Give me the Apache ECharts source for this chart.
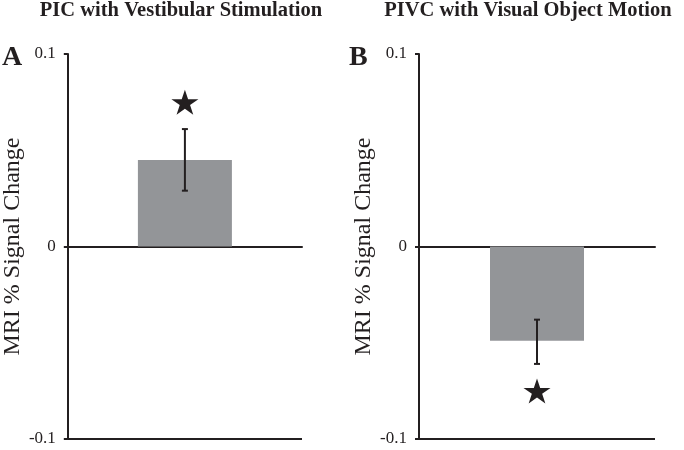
<!DOCTYPE html>
<html><head><meta charset="utf-8">
<script src="https://cdn.jsdelivr.net/npm/echarts@6/dist/echarts.min.js"></script>
<style>html,body{margin:0;padding:0;background:#fff}#c{width:684px;height:450px}</style>
</head><body><div id="c"></div>
<script>
const panelTitles = ['PIC with Vestibular Stimulation', 'PIVC with Visual Object Motion'];
const panelLetters = ['A', 'B'];
const categories = ['Condition'];
const meanA = [0.045];
const meanB = [-0.049];
const errLowA = [0.029];
const errHighA = [0.061];
const errLowB = [-0.061];
const errHighB = [-0.038];
const starA = [0.075];
const starB = [-0.075];
const yTicks = [-0.1, 0, 0.1];
const yAxisName = 'MRI % Signal Change';

const INK = '#231f20';
const SERIF = '"Liberation Serif", "Times New Roman", serif';
const STAR = 'path://M100,0 L122.45,69.1 L195.1,69.1 L136.3,111.8 L158.8,180.9 L100,138.2 L41.2,180.9 L63.7,111.8 L4.9,69.1 L77.55,69.1 Z';

function renderErr(params, api) {
  const x = api.value(0);
  const lo = api.coord([x, api.value(1)]);
  const hi = api.coord([x, api.value(2)]);
  const cap = 3;
  const style = { stroke: INK, lineWidth: 2 };
  return { type: 'group', children: [
    { type: 'line', shape: { x1: lo[0], y1: lo[1], x2: hi[0], y2: hi[1] }, style },
    { type: 'line', shape: { x1: lo[0] - cap, y1: lo[1], x2: lo[0] + cap, y2: lo[1] }, style },
    { type: 'line', shape: { x1: hi[0] - cap, y1: hi[1], x2: hi[0] + cap, y2: hi[1] }, style }
  ]};
}

const grids = [
  { left: 65, top: 54, width: 237, height: 385 },
  { left: 419, top: 54, width: 236, height: 385 }
];

function xAx(i) {
  return {
    gridIndex: i, type: 'category', data: categories,
    axisLine: { onZero: true, lineStyle: { color: INK, width: 2 } },
    axisTick: { show: false }, axisLabel: { show: false }, splitLine: { show: false }
  };
}
function yAx(i) {
  return {
    gridIndex: i, type: 'value',
    min: yTicks[0], max: yTicks[yTicks.length - 1], interval: yTicks[1] - yTicks[0],
    axisLine: { show: true, lineStyle: { color: INK, width: 2 } },
    axisTick: { show: true, length: 4, lineStyle: { color: INK, width: 2 } },
    axisLabel: { fontFamily: SERIF, fontSize: 17, color: INK, margin: 12 },
    splitLine: { show: false },
    name: yAxisName, nameLocation: 'middle', nameGap: 34,
    nameTextStyle: { fontFamily: SERIF, fontSize: 24, color: INK }
  };
}

const panels = [
  { mean: meanA, lo: errLowA, hi: errHighA, star: starA },
  { mean: meanB, lo: errLowB, hi: errHighB, star: starB }
];

const series = [];
panels.forEach((p, i) => {
  series.push({
    type: 'bar', xAxisIndex: i, yAxisIndex: i, barWidth: 94, z: 2,
    itemStyle: { color: '#939598' }, data: p.mean, silent: true,
    markLine: {
      silent: true, symbol: ['none', 'none'], label: { show: false },
      lineStyle: { color: INK, width: 2, type: 'solid' },
      data: [{ yAxis: yTicks[0] }]
    }
  });
  series.push({
    type: 'custom', xAxisIndex: i, yAxisIndex: i, renderItem: renderErr, z: 5,
    encode: { x: 0, y: [1, 2] }, silent: true,
    data: categories.map((c, k) => [k, p.lo[k], p.hi[k]])
  });
  series.push({
    type: 'scatter', xAxisIndex: i, yAxisIndex: i, symbol: STAR, symbolSize: [27, 25], z: 5,
    itemStyle: { color: INK, opacity: 1 }, silent: true,
    data: categories.map((c, k) => [c, p.star[k]])
  });
});

const titleX = [181, 528];
const letterX = [2, 349];
const graphic = [];
panelTitles.forEach((t, i) => {
  graphic.push({ type: 'text', x: titleX[i], y: 11, style: {
    text: t, fill: INK, font: 'bold 20.5px ' + SERIF, textAlign: 'center', textVerticalAlign: 'middle' } });
  graphic.push({ type: 'text', x: letterX[i], y: 58, style: {
    text: panelLetters[i], fill: INK, font: 'bold 28px ' + SERIF, textAlign: 'left', textVerticalAlign: 'middle' } });
});

const chart = echarts.init(document.getElementById('c'), null, { renderer: 'canvas' });
chart.setOption({
  animation: false, backgroundColor: '#fff',
  grid: grids, xAxis: [xAx(0), xAx(1)], yAxis: [yAx(0), yAx(1)],
  series, graphic
});
</script>
</body></html>
